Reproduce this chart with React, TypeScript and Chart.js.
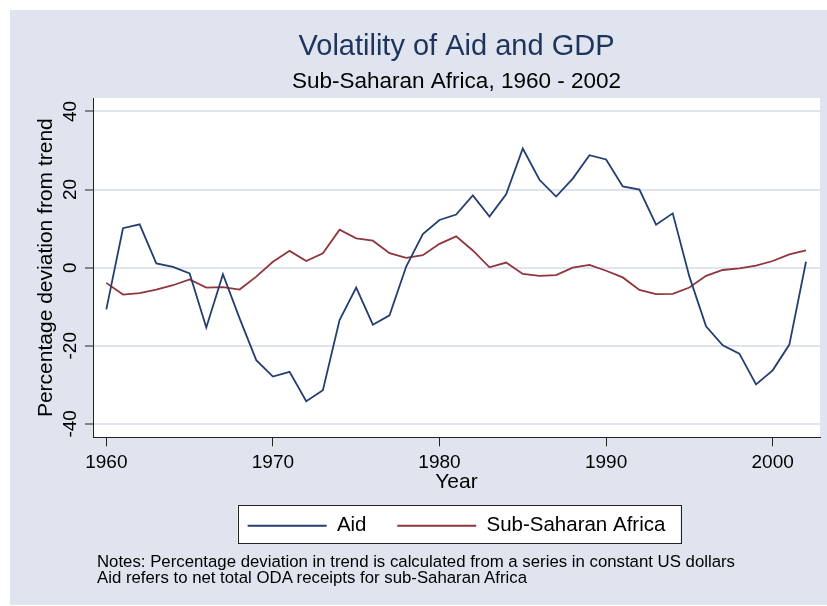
import React, { useEffect, useRef } from "react";
import { Chart, registerables } from "chart.js";

Chart.register(...registerables);

const years = [
  1960, 1961, 1962, 1963, 1964, 1965, 1966, 1967, 1968, 1969,
  1970, 1971, 1972, 1973, 1974, 1975, 1976, 1977, 1978, 1979,
  1980, 1981, 1982, 1983, 1984, 1985, 1986, 1987, 1988, 1989,
  1990, 1991, 1992, 1993, 1994, 1995, 1996, 1997, 1998, 1999,
  2000, 2001, 2002,
];

const aidValues = [
  -10.7, 10.1, 11.1, 1.1, 0.2, -1.5, -15.3, -1.7, -13.0, -23.7,
  -27.9, -26.7, -34.2, -31.4, -13.4, -5.1, -14.6, -12.2, 0.3, 8.6,
  12.2, 13.6, 18.5, 13.1, 18.8, 30.5, 22.5, 18.2, 22.8, 28.8,
  27.7, 20.8, 20.0, 11.0, 13.9, -2.3, -15.0, -19.9, -22.0, -29.9,
  -26.3, -19.7, 1.5,
];

const ssaValues = [
  -3.9, -6.9, -6.5, -5.6, -4.5, -3.0, -5.1, -5.0, -5.6, -2.3,
  1.5, 4.3, 1.7, 3.7, 9.7, 7.5, 6.9, 3.7, 2.5, 3.2,
  6.1, 8.0, 4.4, 0.1, 1.3, -1.6, -2.1, -1.9, 0.0, 0.7,
  -0.8, -2.5, -5.7, -6.8, -6.7, -5.1, -2.1, -0.6, -0.2, 0.5,
  1.7, 3.4, 4.4,
];

const xTicks = [1960, 1970, 1980, 1990, 2000];
const yTicks = [-40, -20, 0, 20, 40];
const seriesNames = ["Aid", "Sub-Saharan Africa"];
const titleText = "Volatility of Aid and GDP";
const subtitleText = "Sub-Saharan Africa, 1960 - 2002";
const xTitle = "Year";
const yTitle = "Percentage deviation from trend";
const noteLines = [
  "Notes: Percentage deviation in trend is calculated from a series in constant US dollars",
  "Aid refers to net total ODA receipts for sub-Saharan Africa",
];

const FONT = "'Liberation Sans', Arial, Helvetica, sans-serif";
const BG = "rgb(223,228,239)";
const GRID = "rgb(223,228,239)";
const AXIS = "#222";
const NAVY = "rgb(36,62,112)";
const MAROON = "rgb(144,53,59)";
const TITLE_COLOR = "rgb(30,52,92)";
const LEGEND_FONT = 20.5;

const bgPlugin = {
  id: "stataBg",
  beforeDraw(chart: any) {
    const ctx = chart.ctx;
    const a = chart.chartArea;
    ctx.save();
    ctx.fillStyle = "#fff";
    ctx.fillRect(0, 0, chart.width, chart.height);
    ctx.fillStyle = BG;
    ctx.fillRect(10, 10, chart.width - 10, chart.height - 11);
    ctx.fillStyle = "#fff";
    ctx.fillRect(a.left, a.top, a.right - a.left, a.bottom - a.top);
    const lg = chart.legend;
    if (lg && lg.legendHitBoxes && lg.legendHitBoxes.length) {
      const hb = lg.legendHitBoxes;
      const left = Math.min(...hb.map((h: any) => h.left)) - 10;
      const right = Math.max(...hb.map((h: any) => h.left + h.width)) + 15;
      const mid = hb[0].top + LEGEND_FONT / 2;
      const top = mid - 20.5;
      const bottom = mid + 17.5;
      ctx.fillStyle = "#fff";
      ctx.fillRect(left, top, right - left, bottom - top);
      ctx.strokeStyle = AXIS;
      ctx.lineWidth = 1;
      ctx.strokeRect(
        Math.round(left) + 0.5,
        Math.round(top) + 0.5,
        Math.round(right - left),
        Math.round(bottom - top)
      );
    }
    ctx.restore();
  },
};

export default function App() {
  const canvasRef = useRef<HTMLCanvasElement | null>(null);

  useEffect(() => {
    if (!canvasRef.current) return;
    const chart = new Chart(canvasRef.current, {
      type: "line",
      data: {
        datasets: [
          {
            label: seriesNames[0],
            data: years.map((yr, i) => ({ x: yr, y: aidValues[i] })),
            borderColor: NAVY,
            backgroundColor: NAVY,
            borderWidth: 1.8,
            pointRadius: 0,
            tension: 0,
          },
          {
            label: seriesNames[1],
            data: years.map((yr, i) => ({ x: yr, y: ssaValues[i] })),
            borderColor: MAROON,
            backgroundColor: MAROON,
            borderWidth: 1.8,
            pointRadius: 0,
            tension: 0,
          },
        ],
      },
      options: {
        animation: false,
        responsive: false,
        layout: { padding: { top: 10, left: 0, right: 7, bottom: 60 } },
        plugins: {
          title: {
            display: true,
            text: titleText,
            color: TITLE_COLOR,
            fullSize: false,
            font: { family: FONT, size: 29, weight: "normal", lineHeight: 1.2 },
            padding: { top: 19.8, bottom: 0 },
          },
          subtitle: {
            display: true,
            text: subtitleText,
            color: "#000",
            fullSize: false,
            font: { family: FONT, size: 22.5, weight: "normal", lineHeight: 1.2 },
            padding: { top: 3.2, bottom: 3.2 },
          },
          legend: {
            display: true,
            position: "bottom",
            fullSize: false,
            labels: {
              usePointStyle: true,
              pointStyle: "line",
              pointStyleWidth: 79,
              color: "#000",
              font: { family: FONT, size: LEGEND_FONT },
              padding: 30.7,
            },
          },
          tooltip: { enabled: false },
        },
        scales: {
          x: {
            type: "linear",
            min: 1959.2,
            max: 2002.84,
            afterBuildTicks: (s: any) => {
              s.ticks = xTicks.map((v) => ({ value: v }));
            },
            afterFit: (s: any) => {
              s.height = 47.5;
            },
            ticks: {
              callback: (v: any) => String(v),
              font: { family: FONT, size: 19 },
              color: "#000",
              padding: 4.6,
              minRotation: 0,
              maxRotation: 0,
              autoSkip: false,
            },
            grid: {
              drawOnChartArea: false,
              drawTicks: true,
              tickLength: 9,
              tickColor: AXIS,
              tickWidth: 1,
            },
            border: { display: true, color: AXIS, width: 1 },
            title: {
              display: true,
              text: xTitle,
              color: "#000",
              font: { family: FONT, size: 21, lineHeight: 1.2 },
              padding: { top: 0, bottom: -9.6 },
            },
          },
          y: {
            type: "linear",
            min: -43.44,
            max: 43.44,
            afterBuildTicks: (s: any) => {
              s.ticks = yTicks.map((v) => ({ value: v }));
            },
            afterFit: (s: any) => {
              s.width = 93;
            },
            ticks: {
              callback: (v: any) => String(v),
              font: { family: FONT, size: 19 },
              color: "#000",
              padding: 0.8,
              minRotation: 90,
              maxRotation: 90,
              crossAlign: "center",
              autoSkip: false,
            },
            grid: {
              color: GRID,
              lineWidth: 2,
              drawTicks: true,
              tickLength: 8,
              tickColor: AXIS,
              tickWidth: 1,
            },
            border: { display: true, color: AXIS, width: 1 },
            title: {
              display: true,
              text: yTitle,
              color: "#000",
              font: { family: FONT, size: 21, lineHeight: 1.2 },
              padding: { top: 33.5, bottom: 0 },
            },
          },
        },
      },
      plugins: [bgPlugin],
    } as any);
    return () => chart.destroy();
  }, []);

  return (
    <div style={{ position: "absolute", left: 0, top: 0, width: 827, height: 606 }}>
      <canvas
        ref={canvasRef}
        width={827}
        height={606}
        style={{ display: "block", width: 827, height: 606 }}
      />
      <div
        style={{
          position: "absolute",
          left: 97,
          top: 554,
          fontFamily: FONT,
          fontSize: 16.8,
          lineHeight: "16px",
          color: "#000",
          whiteSpace: "nowrap",
        }}
      >
        {noteLines.map((t, i) => (
          <div key={i}>{t}</div>
        ))}
      </div>
    </div>
  );
}
